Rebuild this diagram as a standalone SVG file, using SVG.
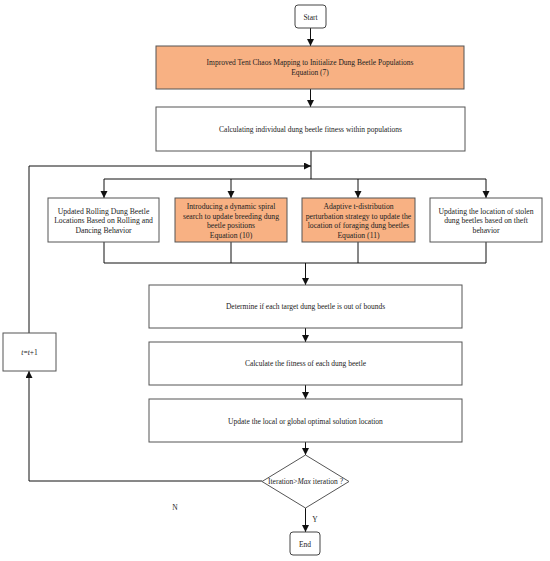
<svg xmlns="http://www.w3.org/2000/svg" width="550" height="561" viewBox="0 0 550 561">
<style>
.box{fill:#fff;stroke:#555;stroke-width:1}
.hl{fill:#F8B183;stroke:#555;stroke-width:1}
.term{fill:#fff;stroke:#444;stroke-width:1}
.t{font-family:"Liberation Serif","DejaVu Serif",serif;font-size:7.5px;fill:#222;text-anchor:middle}
.r{font-size:7.7px}
.c{fill:none;stroke:#111;stroke-width:1}
</style>
<defs>
<marker id="ah" markerUnits="userSpaceOnUse" markerWidth="8" markerHeight="8" refX="7" refY="3.5" orient="auto">
<path d="M0,0 L7,3.5 L0,7 z" fill="#111"/>
</marker>
</defs>
<rect width="550" height="561" fill="#fff"/>
<g id="connectors">
<line class="c" x1="310.5" y1="28" x2="310.5" y2="46" marker-end="url(#ah)"/>
<line class="c" x1="310.5" y1="89" x2="310.5" y2="107" marker-end="url(#ah)"/>
<line class="c" x1="311" y1="151" x2="311" y2="179"/>
<line class="c" x1="104" y1="179" x2="486" y2="179"/>
<line class="c" x1="104" y1="179" x2="104" y2="198" marker-end="url(#ah)"/>
<line class="c" x1="231" y1="179" x2="231" y2="198" marker-end="url(#ah)"/>
<line class="c" x1="358" y1="179" x2="358" y2="198" marker-end="url(#ah)"/>
<line class="c" x1="486" y1="179" x2="486" y2="198" marker-end="url(#ah)"/>
<path class="c" d="M104,242 V263 H486 V242 M231,242 V263 M358,242 V263"/>
<line class="c" x1="305.5" y1="263" x2="305.5" y2="285" marker-end="url(#ah)"/>
<line class="c" x1="305.5" y1="328" x2="305.5" y2="342" marker-end="url(#ah)"/>
<line class="c" x1="305.5" y1="385" x2="305.5" y2="399" marker-end="url(#ah)"/>
<line class="c" x1="305.5" y1="442" x2="305.5" y2="455" marker-end="url(#ah)"/>
<line class="c" x1="305.5" y1="508" x2="305.5" y2="532" marker-end="url(#ah)"/>
<polyline class="c" points="262,481 29,481 29,371" marker-end="url(#ah)"/>
<polyline class="c" points="29,333 29,166 311,166" marker-end="url(#ah)"/>
<text class="t" x="175" y="510">N</text>
<text class="t" x="315" y="522">Y</text>
</g>
<g id="start">
<rect class="term" x="295" y="5" width="31" height="23" rx="3"/>
<text class="t" x="310.5" y="19.5">Start</text>
</g>
<g id="init">
<rect class="hl" x="156" y="46" width="308" height="43"/>
<text class="t" x="310" y="65">Improved Tent Chaos Mapping to Initialize Dung Beetle Populations</text>
<text class="t" x="310" y="75">Equation (7)</text>
</g>
<g id="fitness1">
<rect class="box" x="156" y="107" width="309" height="44"/>
<text class="t" x="310.5" y="132">Calculating individual dung beetle fitness within populations</text>
</g>
<g id="rolling">
<rect class="box" x="48" y="198" width="111" height="44"/>
<text class="t r" x="103.5" y="213.5">Updated Rolling Dung Beetle</text>
<text class="t r" x="103.5" y="223.2">Locations Based on Rolling and</text>
<text class="t r" x="103.5" y="232.9">Dancing Behavior</text>
</g>
<g id="spiral">
<rect class="hl" x="175" y="198" width="112" height="44"/>
<text class="t r" x="231" y="209">Introducing a dynamic spiral</text>
<text class="t r" x="231" y="218.7">search to update breeding dung</text>
<text class="t r" x="231" y="228.4">beetle positions</text>
<text class="t r" x="231" y="238.1">Equation (10)</text>
</g>
<g id="tdist">
<rect class="hl" x="302" y="198" width="113" height="44"/>
<text class="t r" x="358.5" y="209">Adaptive t-distribution</text>
<text class="t r" x="358.5" y="218.7">perturbation strategy to update the</text>
<text class="t r" x="358.5" y="228.4">location of foraging dung beetles</text>
<text class="t r" x="358.5" y="238.1">Equation (11)</text>
</g>
<g id="theft">
<rect class="box" x="430" y="198" width="112" height="44"/>
<text class="t r" x="486" y="213.5">Updating the location of stolen</text>
<text class="t r" x="486" y="223.2">dung beetles based on theft</text>
<text class="t r" x="486" y="232.9">behavior</text>
</g>
<g id="bounds">
<rect class="box" x="149" y="285" width="313" height="43"/>
<text class="t" x="305.5" y="309">Determine if each target dung beetle is out of bounds</text>
</g>
<g id="fitness2">
<rect class="box" x="149" y="342" width="313" height="43"/>
<text class="t" x="305.5" y="366">Calculate the fitness of each dung beetle</text>
</g>
<g id="update">
<rect class="box" x="149" y="399" width="313" height="43"/>
<text class="t" x="305.5" y="424">Update the local or global optimal solution location</text>
</g>
<g id="decision">
<polygon class="box" points="305.5,455 349,481.5 305.5,508 262,481.5"/>
<text class="t" x="305.5" y="484" font-size="6.6">Iteration&gt;<tspan font-style="italic">Max</tspan> iteration ?</text>
</g>
<g id="incr">
<rect class="box" x="3" y="333" width="53" height="38"/>
<text class="t" x="29.5" y="355" font-size="6.5"><tspan font-style="italic">t</tspan>=<tspan font-style="italic">t</tspan>+1</text>
</g>
<g id="end">
<rect class="term" x="290" y="532" width="30" height="23" rx="3"/>
<text class="t" x="305" y="546.5">End</text>
</g>
</svg>
